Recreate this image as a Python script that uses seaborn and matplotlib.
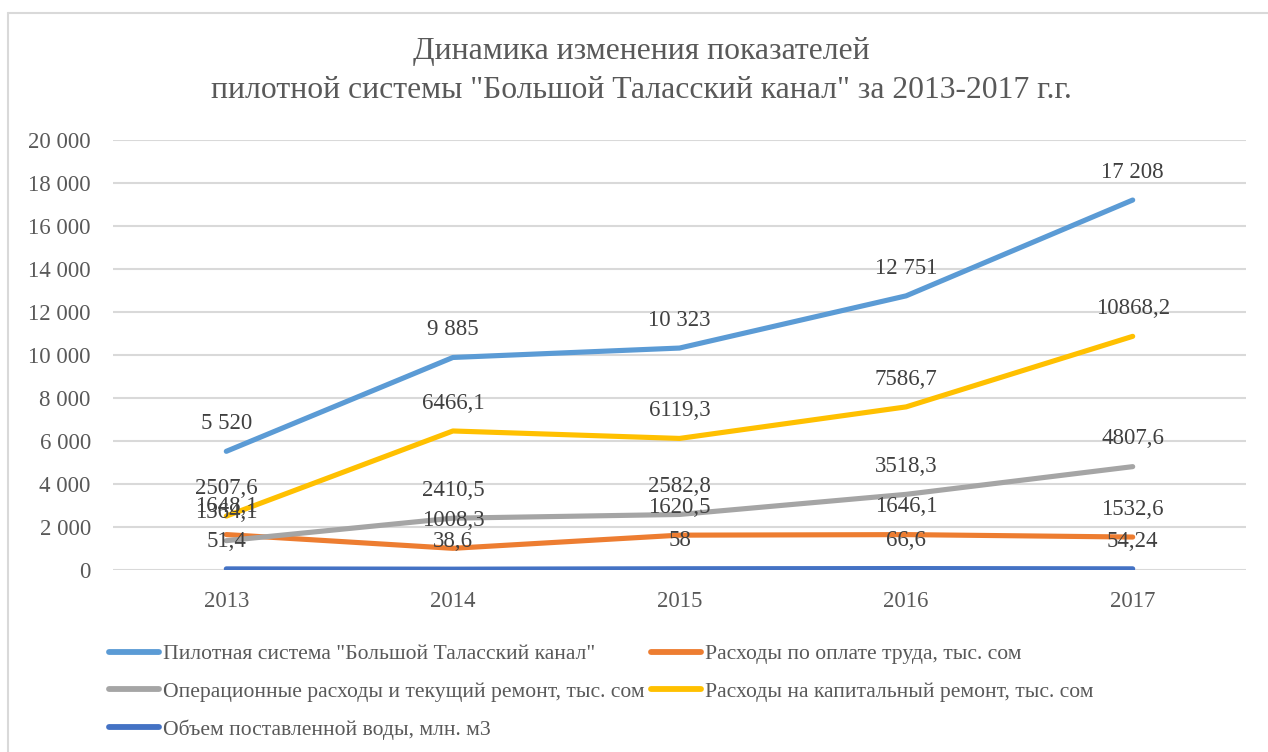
import matplotlib
matplotlib.use("Agg")
import matplotlib.pyplot as plt
from matplotlib.lines import Line2D
from matplotlib.ticker import FuncFormatter, MultipleLocator
import seaborn as sns
import pandas as pd

# ---- data -------------------------------------------------------------
years = ["2013", "2014", "2015", "2016", "2017"]

pilot_system = [5520, 9885, 10323, 12751, 17208]
labor_costs = [1648.1, 1008.3, 1620.5, 1646.1, 1532.6]
operating_costs = [1364.1, 2410.5, 2582.8, 3518.3, 4807.6]
capital_repair = [2507.6, 6466.1, 6119.3, 7586.7, 10868.2]
water_volume = [51.4, 38.6, 58, 66.6, 54.24]

series_names = [
    'Пилотная система "Большой Таласский канал"',
    "Расходы по оплате труда, тыс. сом",
    "Операционные расходы и текущий ремонт, тыс. сом",
    "Расходы на капитальный ремонт, тыс. сом",
    "Объем поставленной воды, млн. м3",
]
series_values = [pilot_system, labor_costs, operating_costs, capital_repair, water_volume]
series_colors = ["#5B9BD5", "#ED7D31", "#A5A5A5", "#FFC000", "#4472C4"]

title_lines = [
    "Динамика изменения показателей",
    'пилотной системы "Большой Таласский канал" за 2013-2017 г.г.',
]

# ---- long-form table for seaborn -------------------------------------
rows = []
for name, vals in zip(series_names, series_values):
    for i, (yr, v) in enumerate(zip(years, vals)):
        rows.append({"pos": i, "year": yr, "value": v, "series": name})
df = pd.DataFrame(rows)

# ---- style ------------------------------------------------------------
sns.set_theme(style="white")
plt.rcParams["font.family"] = ["Liberation Serif", "DejaVu Serif"]

GRID = "#D9D9D9"
TXT = "#595959"
LBL = "#404040"

fig = plt.figure(figsize=(12.68, 7.52), dpi=100)
fig.patch.set_facecolor("white")

# chart frame
W, H = 1268, 752
fig.add_artist(Line2D([8 / W, 8 / W], [0, 1 - 13 / H], color=GRID, lw=1.5,
                      transform=fig.transFigure))
fig.add_artist(Line2D([8 / W, 1], [1 - 13 / H, 1 - 13 / H], color=GRID, lw=1.5,
                      transform=fig.transFigure))

ax = fig.add_axes([113 / W, 1 - 570 / H, (1246 - 113) / W, (570 - 140) / H])
ax.set_facecolor("white")

sns.lineplot(data=df, x="pos", y="value", hue="series", hue_order=series_names,
             palette=series_colors, linewidth=3.7, legend=False, ax=ax,
             sort=False, zorder=3)
for ln in ax.get_lines():
    ln.set_solid_capstyle("round")
    ln.set_solid_joinstyle("round")

ax.set_xlim(-0.5, 4.5)
ax.set_ylim(0, 20000)
ax.yaxis.set_major_locator(MultipleLocator(2000))
ax.yaxis.set_major_formatter(FuncFormatter(lambda v, p: f"{v:,.0f}".replace(",", " ")))
ax.set_xticks(range(len(years)))
ax.set_xticklabels(years)
ax.set_xlabel("")
ax.set_ylabel("")
ax.grid(axis="y", color=GRID, linewidth=1.5, zorder=0)
ax.grid(axis="x", visible=False)
for s in ax.spines.values():
    s.set_visible(False)
ax.tick_params(axis="y", length=0, pad=16, labelsize=16.5, labelcolor=TXT)
ax.tick_params(axis="x", length=0, pad=15, labelsize=16.5, labelcolor=TXT)


def fmt_label(idx, v):
    if idx == 0:
        return f"{v:,.0f}".replace(",", " ")
    return f"{v:g}".replace(".", ",")


for idx, vals in enumerate(series_values):
    for i, v in enumerate(vals):
        ax.annotate(fmt_label(idx, v), (i, v), xytext=(0, 20), textcoords="offset points",
                    ha="center", va="center", fontsize=16.5, color=LBL, zorder=4)

fig.text(641 / W, 1 - 51 / H, title_lines[0], ha="center", va="center",
         fontsize=22.8, color=TXT)
fig.text(641 / W, 1 - 91 / H, title_lines[1], ha="center", va="center",
         fontsize=22.8, color=TXT)

# legend: two columns, row-major order
order = [0, 2, 4, 1, 3]
handles = [Line2D([], [], color=series_colors[k], lw=4.2, solid_capstyle="round")
           for k in order]
labels = [series_names[k] for k in order]
leg = fig.legend(handles, labels, ncol=2, loc="upper left",
                 bbox_to_anchor=(109 / W, 1 - 644 / H), frameon=False,
                 fontsize=15.6, labelcolor=TXT, handlelength=2.3,
                 handletextpad=0.2, columnspacing=0.3, labelspacing=0.8,
                 borderpad=0, borderaxespad=0)

fig.savefig("out.png", dpi=100, facecolor="white")
